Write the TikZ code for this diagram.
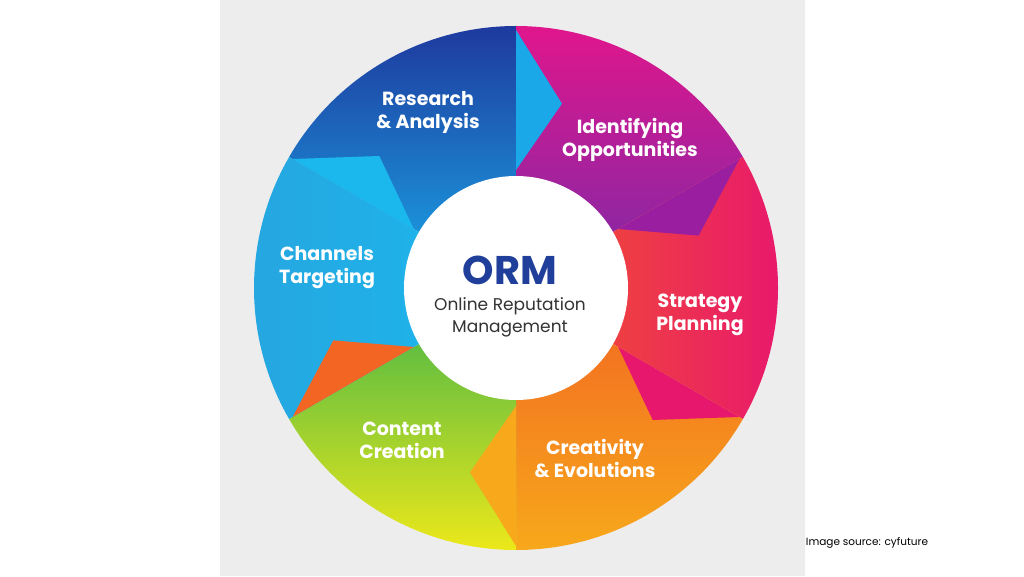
\documentclass[tikz,border=0pt]{standalone}
\usepackage{fontspec}
\setmainfont{Poppins}
\tikzset{
	every picture/.style={x=1pt, y=1pt},
	seglabel/.style={text=white, font=\bfseries\fontsize{19}{23}\selectfont, align=center},
}
\definecolor{panel}{HTML}{EDEDED}
\definecolor{ormblue}{HTML}{1F3F9A}
\definecolor{resA}{HTML}{1E3A9E}\definecolor{resB}{HTML}{1AA8E8}
\definecolor{idA}{HTML}{E0168C}\definecolor{idB}{HTML}{7A2AA8}
\definecolor{strA}{HTML}{F2552A}\definecolor{strB}{HTML}{E8176E}
\definecolor{creA}{HTML}{F26522}\definecolor{creB}{HTML}{F7A81B}
\definecolor{conA}{HTML}{3DB34A}\definecolor{conB}{HTML}{ECE81A}
\definecolor{chaA}{HTML}{26A6E0}\definecolor{chaB}{HTML}{1BB8EE}
\definecolor{idT}{HTML}{9A1FA0}

\begin{document}
\begin{tikzpicture}
	\useasboundingbox (0,0) rectangle (1024,576);
	\fill[white] (0,0) rectangle (1024,576);
	\fill[panel] (220,0) rectangle (805,576);
	\begin{scope}[shift={(516,288)}]
		\foreach \a/\ca/\cb/\ang in {150/resA/resB/0, 90/idA/idB/0, 30/strA/strB/90, -30/creA/creB/0, -90/conA/conB/0, 210/chaA/chaB/90}{
			\shade[left color=\ca, right color=\cb, shading angle=\ang]
				(0,0) -- (\a:262) arc[start angle=\a, end angle=\a-60, radius=262pt] -- cycle;
		}
		\foreach \a/\c in {150/resB, 90/idT, 30/strB, -30/creB, -90/creA, 210/chaB}{
			\fill[fill=\c] (\a-60:258) -- (\a-74:190) -- (\a-60:118) -- cycle;
		}
		\fill[white] (0,0) circle[radius=112pt];
	\end{scope}
	\node[seglabel] (research) at (428,464) {Research\\\& Analysis};
	\node[seglabel] (identify) at (630,436) {Identifying\\Opportunities};
	\node[seglabel] (strategy) at (700,261) {Strategy\\Planning};
	\node[seglabel] (creativity) at (595,118) {Creativity\\\& Evolutions};
	\node[seglabel] (content) at (402,136) {Content\\Creation};
	\node[seglabel] (channels) at (327,308) {Channels\\Targeting};
	\node[text=ormblue, font=\bfseries\fontsize{40}{44}\selectfont] (orm) at (510,306) {ORM};
	\node[text=black!80, font=\fontsize{17}{22}\selectfont, align=center] (ormsub) at (510,259) {Online Reputation\\Management};
	\node[text=black, font=\fontsize{10.5}{12}\selectfont] (source) at (867,33) {Image source: cyfuture};
\end{tikzpicture}
\end{document}
